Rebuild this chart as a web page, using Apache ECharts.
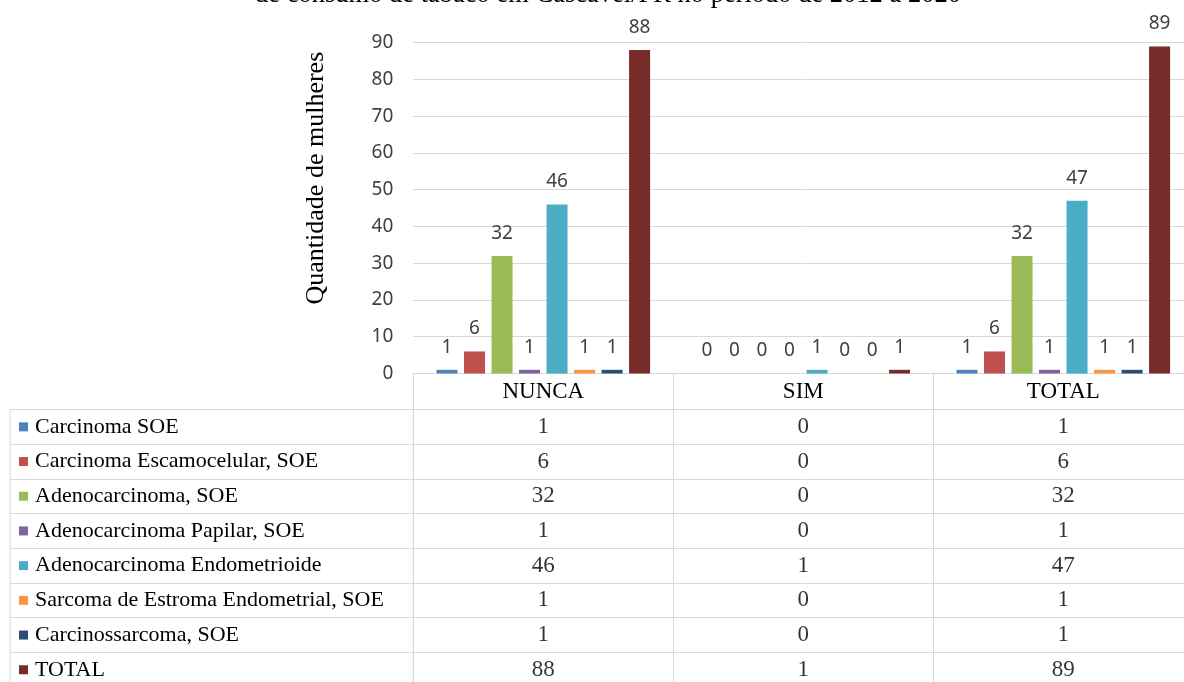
<!DOCTYPE html>
<html>
<head>
<meta charset="utf-8">
<script src="https://cdn.jsdelivr.net/npm/echarts@6/dist/echarts.min.js"></script>
<style>
html,body{margin:0;padding:0;background:#fff;overflow:hidden;width:1184px;height:682px;}
#chart{width:1200px;height:700px;}
</style>
</head>
<body>
<div id="chart"></div>
<script>
const titleText = 'de consumo de tabaco em Cascavel/PR no período de 2012 a 2020';
const categories = ['NUNCA', 'SIM', 'TOTAL'];
const seriesNames = [
  'Carcinoma SOE',
  'Carcinoma Escamocelular, SOE',
  'Adenocarcinoma, SOE',
  'Adenocarcinoma Papilar, SOE',
  'Adenocarcinoma Endometrioide',
  'Sarcoma de Estroma Endometrial, SOE',
  'Carcinossarcoma, SOE',
  'TOTAL'
];
const carcinomaSOE = [1, 0, 1];
const carcinomaEscamocelular = [6, 0, 6];
const adenocarcinoma = [32, 0, 32];
const adenocarcinomaPapilar = [1, 0, 1];
const adenocarcinomaEndometrioide = [46, 1, 47];
const sarcomaEstroma = [1, 0, 1];
const carcinossarcoma = [1, 0, 1];
const totalValues = [88, 1, 89];
const seriesValues = [carcinomaSOE, carcinomaEscamocelular, adenocarcinoma, adenocarcinomaPapilar,
  adenocarcinomaEndometrioide, sarcomaEstroma, carcinossarcoma, totalValues];
const colors = ['#4F81BD', '#C0504D', '#9BBB59', '#8064A2', '#4BACC6', '#F79646', '#2C4D75', '#772C2A'];
const yTicks = { min: 0, max: 90, interval: 10 };

const serif = '"Liberation Serif", "Times New Roman", serif';
const sans = '"Noto Sans", "Liberation Sans", sans-serif';
const gridLine = '#d9d9d9';

const plotLeft = 413.3, colW = 260, plotTop = 42.7, plotH = 330.8;
const tableTop = 409.5, rowH = 34.7;

const barSeries = seriesNames.map((name, i) => ({
  name: name,
  type: 'bar',
  xAxisIndex: 0, yAxisIndex: 0,
  data: seriesValues[i],
  barWidth: 21,
  barGap: '31%',
  itemStyle: { color: colors[i] },
  label: {
    show: true, position: 'top', distance: 13,
    fontFamily: sans, fontSize: 19, color: '#404040'
  }
}));

const cellData = [];
seriesValues.forEach((arr, r) => arr.forEach((v, c) => cellData.push([c, r, v])));

const option = {
  animation: false,
  color: colors,
  title: {
    text: titleText, left: 603, top: -23,
    textAlign: 'center',
    textStyle: { fontFamily: serif, fontSize: 26.5, fontWeight: 'normal', color: '#000' }
  },
  legend: {
    data: seriesNames,
    orient: 'vertical',
    left: 19, top: tableTop,
    padding: 0,
    itemGap: 0,
    icon: 'rect',
    itemWidth: 9, itemHeight: 9,
    textStyle: { fontFamily: serif, fontSize: 22, color: '#000', lineHeight: rowH, padding: [0, 0, 0, 2] },
    selectedMode: false
  },
  grid: [
    { left: plotLeft, top: plotTop, width: colW * 3, height: plotH, containLabel: false },
    { left: plotLeft, top: tableTop, width: colW * 3, height: rowH * 8, show: true, borderColor: gridLine, borderWidth: 1 },
    { left: 10, top: tableTop, width: plotLeft - 10, height: rowH * 8, show: true, borderColor: gridLine, borderWidth: 1 }
  ],
  xAxis: [
    {
      gridIndex: 0, type: 'category', data: categories,
      axisLine: { show: true, lineStyle: { color: gridLine } },
      axisTick: { show: true, length: tableTop - (plotTop + plotH), inside: false, lineStyle: { color: gridLine } },
      axisLabel: { fontFamily: serif, fontSize: 23, color: '#000', margin: 7 }
    },
    {
      gridIndex: 1, type: 'category', data: categories,
      axisLine: { show: false }, axisTick: { show: false }, axisLabel: { show: false },
      splitLine: { show: true, lineStyle: { color: gridLine } }
    },
    {
      gridIndex: 2, type: 'value', show: false
    }
  ],
  yAxis: [
    {
      gridIndex: 0, type: 'value', min: yTicks.min, max: yTicks.max, interval: yTicks.interval,
      axisLine: { show: false }, axisTick: { show: false },
      axisLabel: { fontFamily: sans, fontSize: 19, color: '#404040', margin: 20 },
      splitLine: { show: true, lineStyle: { color: gridLine } },
      name: 'Quantidade de mulheres', nameLocation: 'middle', nameGap: 84,
      nameTextStyle: { fontFamily: serif, fontSize: 26, color: '#000', padding: [0, 0, 0, 60] }
    },
    {
      gridIndex: 1, type: 'category', data: seriesNames, inverse: true,
      axisLine: { show: false }, axisTick: { show: false }, axisLabel: { show: false },
      splitLine: { show: true, lineStyle: { color: gridLine } }
    },
    {
      gridIndex: 2, type: 'category', data: seriesNames, inverse: true,
      axisLine: { show: false }, axisTick: { show: false }, axisLabel: { show: false },
      splitLine: { show: true, lineStyle: { color: gridLine } }
    }
  ],
  series: barSeries.concat([{
    type: 'scatter',
    xAxisIndex: 1, yAxisIndex: 1,
    data: cellData,
    symbolSize: 1,
    itemStyle: { color: 'rgba(0,0,0,0)' },
    silent: true,
    label: {
      show: true, position: 'inside',
      formatter: p => String(p.value[2]),
      fontFamily: serif, fontSize: 23, color: '#000'
    }
  }])
};

const chart = echarts.init(document.getElementById('chart'), null, { renderer: 'canvas' });
chart.setOption(option);
</script>
</body>
</html>
